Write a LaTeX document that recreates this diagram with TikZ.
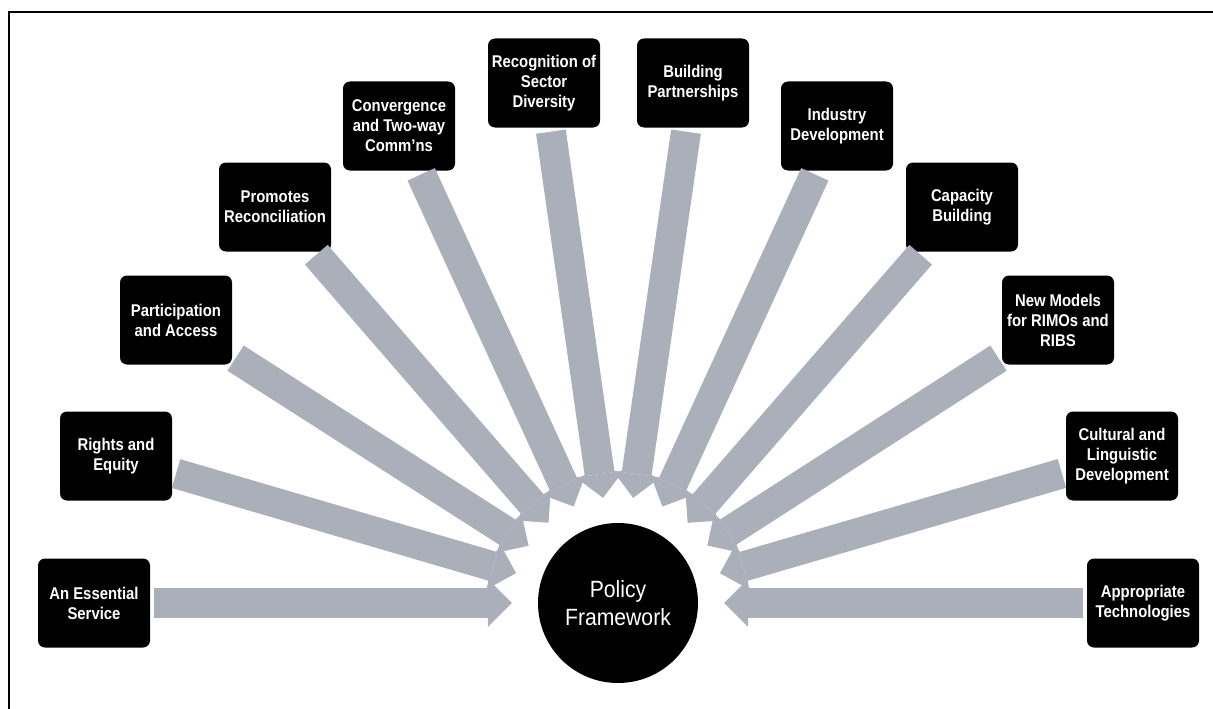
\documentclass[tikz,border=0pt]{standalone}
\usepackage{fontspec}
\newfontfamily\boxfont{Liberation Sans}[FakeStretch=0.875]
\newfontfamily\circfont{Liberation Sans}[FakeStretch=0.9]
\usetikzlibrary{arrows.meta}
\definecolor{arrowgray}{RGB}{171,175,185}
\begin{document}
\begin{tikzpicture}[x=1pt,y=-1pt,
  topic/.style={fill=black, rounded corners=7pt, minimum width=112pt, minimum height=89pt,
    inner sep=0pt, text=white, align=center,
    font=\boxfont\bfseries\fontsize{17}{20}\selectfont},
  hub/.style={circle, fill=black, minimum size=160pt, inner sep=0pt, text=white, align=center,
    font=\circfont\fontsize{23.5}{28}\selectfont},
  feed/.style={draw=arrowgray, line width=30pt, shorten <=4pt, shorten >=26pt,
    -{Triangle[length=24pt,width=48pt,line width=0pt]}},
  frame/.style={draw=black, line width=2pt}]
\useasboundingbox (0,0) rectangle (1213,709);
\draw[frame] (9,709) -- (9,12) -- (1213,12);

\node[hub] (pf) at (618,603) {Policy\\Framework};

\node[topic] (b1)  at (94,603)   {An Essential\\Service};
\node[topic] (b2)  at (116,456)  {Rights and\\Equity};
\node[topic] (b3)  at (176,320)  {Participation\\and Access};
\node[topic] (b4)  at (275,207)  {Promotes\\Reconciliation};
\node[topic] (b5)  at (399,126)  {Convergence\\and Two-way\\Comm’ns};
\node[topic] (b6)  at (544,83)   {Recognition of\\Sector\\Diversity};
\node[topic] (b7)  at (693,83)   {Building\\Partnerships};
\node[topic] (b8)  at (837,126)  {Industry\\Development};
\node[topic] (b9)  at (962,207)  {Capacity\\Building};
\node[topic] (b10) at (1058,320) {New Models\\for RIMOs and\\RIBS};
\node[topic] (b11) at (1122,456) {Cultural and\\Linguistic\\Development};
\node[topic] (b12) at (1143,603) {Appropriate\\Technologies};

\foreach \b in {b1,b2,b3,b4,b5,b6,b7,b8,b9,b10,b11,b12}
  \draw[feed] (\b) -- (pf);
\end{tikzpicture}
\end{document}
